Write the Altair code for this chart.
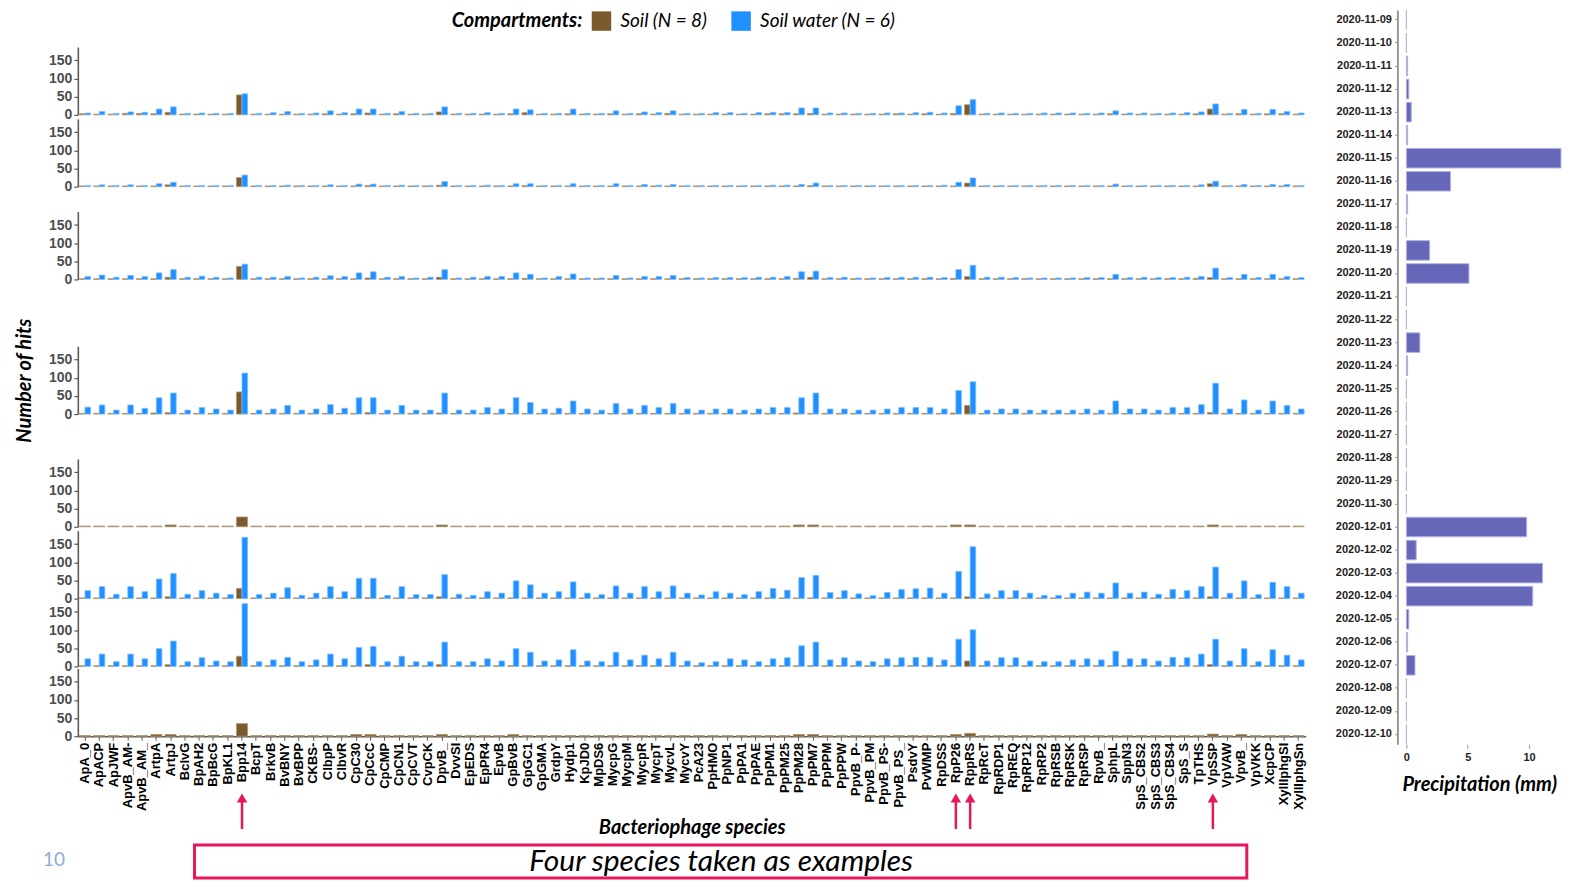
import altair as alt
import pandas as pd

species = [
    "ApA_0", "ApACP", "ApJWF", "ApvB_AM-", "ApvB_AM_", "ArtpA", "ArtpJ", "BclvG", "BpAH2", "BpBcG",
    "BpKL1", "Bpp14", "BcpT", "BrkvB", "BvBNY", "BvBPP", "CKBS-", "ClbpP", "ClbvR", "CpC30",
    "CpCcC", "CpCMP", "CpCN1", "CpCVT", "CvpCK", "DpvB_", "DvvSI", "EpEDS", "EpPR4", "EpvB",
    "GpBvB", "GpGC1", "GpGMA", "GrdpY", "Hydp1", "KpJD0", "MpDS6", "MycpG", "MycpM", "MycpR",
    "MycpT", "MycvL", "MycvY", "PcA23", "PpHMO", "PpNP1", "PpPA1", "PpPAE", "PpPM1", "PpPM25",
    "PpPM28", "PpPM7", "PpPPM", "PpPPW", "PpvB_P-", "PpvB_PM", "PpvB_PS-", "PpvB_PS_", "PsdvY", "PvWMP",
    "RpDSS", "RpP26", "RppRS", "RpRcT", "RpRDP1", "RpREQ", "RpRP12", "RpRP2", "RpRSB", "RpRSK",
    "RpRSP", "RpvB_", "SphpL", "SppN3", "SpS_CBS2", "SpS_CBS3", "SpS_CBS4", "SpS_S", "TpTHS", "VpSSP",
    "VpVAW", "VpvB_", "VpVKK", "XcpCP", "XyllIphgSI", "XyllIphgSn",
]
compartments = ["Soil (N = 8)", "Soil water (N = 6)"]
highlighted = ["Bpp14", "RpP26", "RppRS", "VpSSP"]

# ---- panel 1 ----
soil_1 = [3, 2, 2, 4, 4, 3, 7, 2, 2, 2,
          2, 55, 2, 2, 2, 2, 2, 3, 2, 3,
          5, 2, 3, 2, 2, 8, 2, 2, 2, 2,
          3, 6, 2, 2, 3, 2, 2, 3, 2, 3,
          2, 4, 2, 2, 2, 2, 2, 2, 3, 3,
          3, 4, 2, 2, 2, 2, 2, 3, 2, 3,
          2, 4, 28, 2, 2, 2, 2, 2, 2, 2,
          2, 2, 3, 2, 2, 2, 2, 2, 3, 16,
          2, 3, 2, 3, 3, 2]
water_1 = [5, 9, 4, 8, 7, 16, 22, 4, 5, 4,
           4, 58, 4, 6, 9, 4, 5, 11, 6, 16,
           16, 4, 9, 4, 4, 22, 4, 4, 6, 4,
           16, 14, 4, 4, 16, 4, 4, 11, 4, 8,
           6, 11, 4, 4, 6, 6, 4, 6, 7, 6,
           19, 19, 5, 5, 4, 4, 5, 5, 6, 7,
           5, 25, 42, 4, 5, 4, 4, 5, 5, 5,
           4, 5, 11, 5, 5, 4, 5, 6, 8, 30,
           4, 15, 4, 15, 9, 5]
# ---- panel 2 ----
soil_2 = [2, 2, 2, 2, 2, 2, 5, 2, 2, 2,
          2, 25, 2, 2, 2, 2, 2, 2, 2, 2,
          3, 2, 2, 2, 2, 4, 2, 2, 2, 2,
          2, 3, 2, 2, 2, 2, 2, 2, 2, 2,
          2, 2, 2, 2, 2, 2, 2, 2, 2, 2,
          2, 3, 2, 2, 2, 2, 2, 2, 2, 2,
          2, 2, 10, 2, 2, 2, 2, 2, 2, 2,
          2, 2, 2, 2, 2, 2, 2, 2, 2, 8,
          2, 2, 2, 2, 2, 2]
water_2 = [3, 5, 3, 5, 3, 8, 12, 3, 3, 3,
           3, 32, 3, 3, 4, 3, 3, 5, 3, 7,
           7, 3, 4, 3, 3, 14, 3, 3, 4, 3,
           8, 8, 3, 3, 8, 3, 3, 8, 3, 6,
           4, 6, 3, 3, 3, 3, 3, 3, 4, 4,
           6, 10, 3, 3, 3, 3, 3, 3, 3, 3,
           4, 12, 24, 3, 3, 3, 3, 3, 3, 3,
           3, 3, 7, 3, 3, 3, 3, 3, 5, 15,
           3, 6, 3, 6, 6, 3]
# ---- panel 3 ----
soil_3 = [2, 2, 2, 2, 2, 2, 6, 2, 2, 2,
          2, 36, 2, 2, 2, 2, 2, 2, 2, 2,
          4, 2, 2, 2, 2, 6, 2, 2, 2, 2,
          2, 3, 2, 2, 2, 2, 2, 2, 2, 2,
          2, 2, 2, 2, 2, 2, 2, 2, 2, 2,
          3, 6, 2, 2, 2, 2, 2, 2, 2, 2,
          2, 3, 8, 2, 2, 2, 2, 2, 2, 2,
          2, 2, 2, 2, 2, 2, 2, 2, 3, 5,
          2, 2, 2, 2, 2, 2]
water_3 = [8, 12, 6, 11, 8, 18, 27, 6, 9, 6,
           4, 42, 6, 6, 8, 4, 6, 10, 8, 18,
           21, 6, 8, 4, 6, 27, 4, 6, 8, 8,
           18, 14, 4, 8, 15, 4, 4, 11, 4, 8,
           8, 11, 5, 4, 5, 5, 5, 6, 6, 8,
           21, 23, 5, 6, 4, 4, 5, 6, 6, 6,
           5, 27, 39, 6, 6, 5, 4, 4, 4, 4,
           5, 5, 14, 5, 6, 5, 5, 6, 8, 31,
           5, 14, 5, 14, 8, 5]
# ---- panel 4 ----
soil_4 = [2, 2, 2, 2, 2, 3, 4, 2, 2, 2,
          2, 61, 2, 2, 2, 2, 2, 2, 2, 2,
          4, 2, 2, 2, 2, 3, 2, 2, 2, 2,
          2, 2, 2, 2, 2, 2, 2, 2, 2, 2,
          2, 2, 2, 2, 2, 2, 2, 2, 2, 2,
          3, 2, 2, 2, 2, 2, 2, 2, 2, 2,
          2, 3, 24, 2, 2, 2, 2, 2, 2, 2,
          2, 2, 2, 2, 2, 2, 2, 2, 2, 4,
          2, 2, 2, 2, 2, 2]
water_4 = [19, 25, 11, 25, 16, 45, 58, 11, 18, 14,
           11, 113, 11, 14, 24, 11, 14, 26, 16, 45,
           45, 11, 24, 11, 11, 58, 11, 11, 18, 14,
           45, 32, 14, 16, 36, 14, 11, 29, 14, 24,
           18, 29, 14, 11, 14, 14, 11, 14, 18, 18,
           45, 58, 14, 14, 11, 11, 14, 18, 18, 18,
           14, 65, 89, 11, 14, 14, 11, 11, 11, 11,
           14, 11, 36, 14, 14, 11, 18, 18, 26, 85,
           14, 39, 11, 36, 24, 14]
# ---- panel 5 (soil only) ----
soil_5 = [2, 2, 2, 2, 2, 2, 5, 2, 2, 2,
          2, 27, 2, 2, 2, 2, 2, 2, 2, 2,
          2, 2, 2, 2, 2, 5, 2, 2, 2, 2,
          2, 2, 2, 2, 2, 2, 2, 2, 2, 2,
          2, 2, 2, 2, 2, 2, 2, 2, 2, 2,
          5, 5, 2, 2, 2, 2, 2, 2, 2, 2,
          2, 5, 5, 2, 2, 2, 2, 2, 2, 2,
          2, 2, 2, 2, 2, 2, 2, 2, 2, 5,
          2, 2, 2, 2, 2, 2]
# ---- panel 6 ----
soil_6 = [2, 2, 2, 2, 2, 2, 5, 2, 2, 2,
          2, 28, 2, 2, 2, 2, 2, 2, 2, 2,
          3, 2, 2, 2, 2, 5, 2, 2, 2, 2,
          2, 2, 2, 2, 2, 2, 2, 2, 2, 2,
          2, 2, 2, 2, 2, 2, 2, 2, 2, 2,
          2, 2, 2, 2, 2, 2, 2, 2, 2, 2,
          2, 2, 5, 2, 2, 2, 2, 2, 2, 2,
          2, 2, 2, 2, 2, 2, 2, 2, 2, 5,
          2, 2, 2, 2, 2, 2]
water_6 = [22, 33, 12, 33, 19, 54, 69, 12, 22, 15,
           11, 169, 11, 15, 30, 9, 15, 33, 19, 56,
           56, 9, 33, 11, 11, 66, 12, 9, 19, 15,
           49, 38, 15, 19, 46, 15, 11, 35, 15, 33,
           19, 35, 15, 10, 19, 15, 11, 19, 28, 23,
           58, 64, 17, 22, 13, 8, 17, 25, 27, 29,
           15, 75, 143, 13, 22, 22, 15, 9, 9, 15,
           18, 15, 43, 15, 18, 12, 25, 22, 33, 87,
           15, 49, 11, 45, 33, 15]
# ---- panel 7 ----
soil_7 = [2, 2, 2, 2, 2, 2, 5, 2, 2, 2,
          2, 28, 2, 2, 2, 2, 2, 2, 2, 2,
          5, 2, 2, 2, 2, 5, 2, 2, 2, 2,
          2, 2, 2, 2, 2, 2, 2, 2, 2, 2,
          2, 2, 2, 2, 2, 2, 2, 2, 2, 2,
          2, 2, 2, 2, 2, 2, 2, 2, 2, 2,
          2, 2, 15, 2, 2, 2, 2, 2, 2, 2,
          2, 2, 2, 2, 2, 2, 2, 2, 2, 5,
          2, 2, 2, 2, 2, 2]
water_7 = [21, 34, 13, 34, 21, 49, 70, 13, 24, 15,
           13, 173, 13, 18, 25, 13, 18, 34, 21, 52,
           55, 13, 28, 13, 13, 67, 13, 13, 21, 15,
           49, 39, 15, 18, 46, 15, 13, 39, 18, 31,
           21, 39, 15, 10, 13, 21, 18, 13, 21, 24,
           57, 67, 18, 24, 15, 13, 21, 24, 25, 25,
           18, 75, 101, 15, 24, 24, 15, 13, 13, 18,
           21, 18, 42, 21, 21, 15, 25, 24, 34, 75,
           15, 49, 13, 46, 31, 18]
# ---- panel 8 (soil only) ----
soil_8 = [2, 2, 2, 2, 2, 5, 5, 2, 2, 2,
          2, 35, 2, 2, 2, 2, 2, 2, 2, 5,
          5, 2, 2, 2, 2, 5, 2, 2, 2, 2,
          5, 2, 2, 2, 2, 2, 2, 2, 2, 2,
          2, 2, 2, 2, 2, 2, 2, 2, 2, 2,
          5, 5, 2, 2, 2, 2, 2, 2, 2, 2,
          2, 5, 8, 2, 2, 2, 2, 2, 2, 2,
          2, 2, 2, 2, 2, 2, 2, 2, 2, 6,
          2, 5, 2, 2, 2, 2]

dates = ["2020-11-09", "2020-11-10", "2020-11-11", "2020-11-12", "2020-11-13", "2020-11-14",
         "2020-11-15", "2020-11-16", "2020-11-17", "2020-11-18", "2020-11-19", "2020-11-20",
         "2020-11-21", "2020-11-22", "2020-11-23", "2020-11-24", "2020-11-25", "2020-11-26",
         "2020-11-27", "2020-11-28", "2020-11-29", "2020-11-30", "2020-12-01", "2020-12-02",
         "2020-12-03", "2020-12-04", "2020-12-05", "2020-12-06", "2020-12-07", "2020-12-08",
         "2020-12-09", "2020-12-10"]
precip_mm = [0, 0, 0.1, 0.2, 0.4, 0.1, 12.6, 3.6, 0.1, 0, 1.9, 5.1, 0, 0, 1.1, 0.1,
             0, 0, 0, 0, 0, 0, 9.8, 0.8, 11.1, 10.3, 0.2, 0.1, 0.7, 0, 0, 0]

# ---------------------------------------------------------------
W = 1231
H = 68
YMAX = 187
BROWN = "#7B5A2E"
BLUE = "#1E90FF"
PINK = "#E8175D"
TITLE_FONT = "Lato"
AXIS_FONT = "Liberation Sans"

color_scale = alt.Scale(domain=compartments, range=[BROWN, BLUE])
stroke_scale = alt.Scale(domain=compartments, range=["#B39A78", "#7CBBFF"])
x_scale = alt.Scale(domain=species, paddingInner=0.22, paddingOuter=0.11)

legend_def = alt.Legend(
    orient="none", legendX=375, legendY=1, direction="horizontal",
    title="Compartments:", titleOrient="left", titleFont=TITLE_FONT, titleFontSize=20,
    titleFontWeight="bold", titleFontStyle="italic", titleColor="black", titlePadding=9,
    labelFont=TITLE_FONT, labelFontSize=19, labelFontStyle="italic", labelColor="black",
    labelOffset=9, columnPadding=24, symbolType="square", symbolSize=380,
    symbolStrokeWidth=0, symbolOpacity=1,
)


def make_df(soil, water=None):
    recs = []
    for i, sp in enumerate(species):
        recs.append({"species": sp, "compartment": compartments[0], "hits": soil[i]})
        if water is not None:
            recs.append({"species": sp, "compartment": compartments[1], "hits": water[i]})
    return pd.DataFrame(recs)


def y_axis(title=None):
    return alt.Axis(
        values=[0, 50, 100, 150], grid=False, labelFlush=False,
        labelFont=AXIS_FONT, labelFontSize=14, labelFontWeight="bold", labelColor="#4D4D4D",
        labelPadding=2, domainColor="#5A5A5A", domainWidth=1.6, tickColor="#5A5A5A",
        tickSize=4, tickWidth=1.2, title=title, titleFont=TITLE_FONT, titleFontSize=20,
        titleFontWeight="bold", titleFontStyle="italic", titleColor="black", titlePadding=14,
    )


x_axis_bottom = alt.Axis(
    labelAngle=270, labelFont=AXIS_FONT, labelFontSize=13, labelFontWeight="bold",
    labelColor="black", labelPadding=2, tickColor="#5A5A5A", tickSize=4,
    domainColor="#5A5A5A", domainWidth=1.4, title="Bacteriophage species",
    titleFont=TITLE_FONT, titleFontSize=20, titleFontWeight="bold", titleFontStyle="italic",
    titleColor="black", titlePadding=7,
)


def bar_panel(soil, water=None, y_title=None, bottom=False):
    df = make_df(soil, water)
    if bottom:
        xe = alt.X("species:N", sort=species, scale=x_scale, axis=x_axis_bottom)
    else:
        xe = alt.X("species:N", sort=species, scale=x_scale, axis=None)
    enc = dict(
        x=xe,
        y=alt.Y("hits:Q", scale=alt.Scale(domain=[0, YMAX], nice=False), axis=y_axis(y_title)),
        color=alt.Color("compartment:N", scale=color_scale, legend=legend_def),
        stroke=alt.Stroke("compartment:N", scale=stroke_scale, legend=None),
    )
    if water is not None:
        enc["xOffset"] = alt.XOffset("compartment:N",
                                     scale=alt.Scale(domain=compartments, paddingInner=0, paddingOuter=0))
    return alt.Chart(df).mark_bar(strokeWidth=0.8).encode(**enc).properties(width=W, height=H)


def spacer(h):
    return (alt.Chart(pd.DataFrame({"v": [0]}))
            .mark_point(opacity=0, size=1)
            .encode(x=alt.value(W / 2), y=alt.value(h / 2))
            .properties(width=W, height=h))


p1 = bar_panel(soil_1, water_1)
p2 = bar_panel(soil_2, water_2)
p3 = bar_panel(soil_3, water_3)
p4 = bar_panel(soil_4, water_4, y_title="Number of hits")
p5 = bar_panel(soil_5)
p6 = bar_panel(soil_6, water_6)
p7 = bar_panel(soil_7, water_7)
p8_bars = bar_panel(soil_8, bottom=True)

# annotations under the bottom panel
hl_df = pd.DataFrame({"species": highlighted})
arrows = alt.Chart(hl_df).mark_rule(color=PINK, strokeWidth=2.5).encode(
    x=alt.X("species:N", sort=species, scale=x_scale),
    y=alt.value(132), y2=alt.value(161),
)
heads = alt.Chart(hl_df).mark_point(shape="triangle-up", filled=True, size=110,
                                    color=PINK, opacity=1).encode(
    x=alt.X("species:N", sort=species, scale=x_scale),
    y=alt.value(130),
)
note_df = pd.DataFrame({"note": ["Four species taken as examples"], "page": ["10"]})
box = alt.Chart(note_df).mark_rect(filled=False, stroke=PINK, strokeWidth=3).encode(
    x=alt.value(117), x2=alt.value(1172), y=alt.value(177), y2=alt.value(210),
)
note = alt.Chart(note_df).mark_text(font=TITLE_FONT, fontSize=30, fontStyle="italic",
                                    color="black").encode(
    text="note:N", x=alt.value(645), y=alt.value(194),
)
page = alt.Chart(note_df).mark_text(font=TITLE_FONT, fontSize=19, color="#8FAADC").encode(
    text="page:N", x=alt.value(-24), y=alt.value(192),
)
p8 = alt.layer(p8_bars, arrows, heads, box, note, page)

left = alt.vconcat(
    spacer(37), p1, spacer(4), p2, spacer(25), p3, spacer(67), p4, spacer(45), p5,
    spacer(4), p6, p7, spacer(2), p8,
    spacing=0, bounds="flush",
)

precip_df = pd.DataFrame({"date": dates, "mm": precip_mm})
precip = alt.Chart(precip_df).mark_bar(color="#6767B9", stroke="#B4B4E4", strokeWidth=1).encode(
    y=alt.Y("date:N", sort=dates,
            scale=alt.Scale(domain=dates, paddingInner=0.15, paddingOuter=0),
            axis=alt.Axis(title=None, labelFont=AXIS_FONT, labelFontSize=11, labelFontWeight="bold",
                          labelColor="#222222", labelPadding=3, domainColor="#999999", domainWidth=2,
                          tickColor="#999999", tickSize=3)),
    x=alt.X("mm:Q", scale=alt.Scale(domain=[-0.73, 12.6], nice=False, zero=False),
            axis=alt.Axis(values=[0, 5, 10], grid=False, domain=False, labelFont=AXIS_FONT,
                          labelFontSize=11, labelFontWeight="bold", labelColor="#222222",
                          labelPadding=3, tickColor="#999999", tickSize=4,
                          title="Precipitation (mm)", titleFont=TITLE_FONT, titleFontSize=20,
                          titleFontWeight="bold", titleFontStyle="italic", titleColor="black",
                          titlePadding=12)),
).properties(width=164, height=736)

chart = (
    alt.hconcat(left, precip, spacing=W + 92, bounds="flush")
    .properties(padding={"left": 6, "top": 0, "right": 0, "bottom": 0}, background="white")
    .configure_view(strokeWidth=0)
)

chart.save("out.html", embed_options={"renderer": "svg", "actions": False})
